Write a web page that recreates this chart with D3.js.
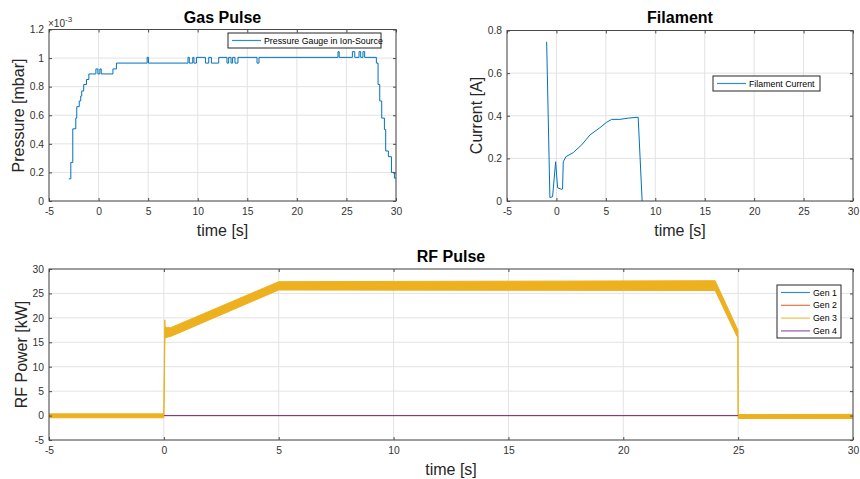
<!DOCTYPE html>
<html><head><meta charset="utf-8">
<script src="https://cdn.jsdelivr.net/npm/d3@7"></script>
<style>
body{margin:0;background:#fff}
text{font-family:"Liberation Sans",Arial,Helvetica,sans-serif}
</style>
</head><body><svg id="c" width="860" height="479"></svg>
<script>
// ---------------- data ----------------
const timeTicks = [-5, 0, 5, 10, 15, 20, 25, 30];
const gasTicksY = [0, 0.2, 0.4, 0.6, 0.8, 1, 1.2];       // x 10^-3 mbar
const filTicksY = [0, 0.2, 0.4, 0.6, 0.8];
const rfTicksY = [-5, 0, 5, 10, 15, 20, 25, 30];

// Gas pulse: pressure gauge in ion-source (step data, units 1e-3 mbar)
const gasT = [-3.0, -2.8, -2.6, -2.3, -2.2, -1.95, -1.8, -1.7, -1.5, -1.22, -0.98,
  -0.27, -0.07, 0.13, 0.27, 1.45, 1.8, 4.9, 5.03,
  9.02, 9.15, 9.5, 9.62, 9.87, 10.78, 11.11, 11.38, 12.12,
  12.95, 13.12, 13.36, 13.52, 13.76, 14.06, 15.98, 16.18,
  24.15, 24.27, 25.6, 25.84, 26.27, 26.44, 26.67, 26.84,
  28.02, 28.19, 28.36, 28.56, 28.83, 28.96, 29.23, 29.54, 29.84, 30.0];
const gasP = [0.155, 0.27, 0.505, 0.58, 0.66, 0.70, 0.735, 0.77, 0.815, 0.85, 0.889,
  0.924, 0.889, 0.924, 0.889, 0.924, 0.965, 1.005, 0.965,
  1.005, 0.965, 1.005, 0.965, 1.005, 0.965, 1.005, 0.965, 1.005,
  0.965, 1.005, 0.965, 1.005, 0.965, 1.005, 0.965, 1.005,
  1.045, 1.005, 1.045, 1.005, 1.045, 1.005, 1.045, 1.005,
  0.965, 0.815, 0.70, 0.58, 0.50, 0.35, 0.31, 0.20, 0.16, 0.16];

// Filament current [A]
const filT = [-0.99, -0.66, -0.39, -0.08, 0.12, 0.52, 0.62, 0.69, 0.96, 1.7, 2.57, 3.39, 4.4, 5.07, 5.58, 6.42, 7.29, 8.27, 8.67];
const filI = [0.747, 0.016, 0.02, 0.184, 0.062, 0.055, 0.056, 0.184, 0.208, 0.227, 0.264, 0.31, 0.344, 0.369, 0.383, 0.383, 0.389, 0.393, 0];

// RF power [kW]: generators 1,2,4 flat at zero, generator 3 as noisy band (low/high envelope)
const genNames = ["Gen 1", "Gen 2", "Gen 3", "Gen 4"];
const genColors = ["#0072BD", "#D95319", "#EDB120", "#7E2F8E"];
const genFlatT = [0, 25];
const genFlatP = [0, 0];
const gen3T  = [-5, -0.01, 0.0, 0.04, 0.05, 0.09, 0.3, 5.0, 24.0, 24.95, 24.99, 25.0, 30];
const gen3Lo = [-0.45, -0.45, -0.2, 14.0, 15.8, 16.0, 16.2, 25.7, 25.6, 16.2, 16.3, -0.6, -0.6];
const gen3Hi = [0.35, 0.35, 0.3, 19.6, 18.4, 18.0, 18.0, 27.4, 27.6, 17.9, 17.6, 0.2, 0.25];

// ---------------- drawing ----------------
const svg = d3.select("#c");
svg.append("rect").attr("width", 860).attr("height", 479).attr("fill", "#fff");
const defs = svg.append("defs");
const AX = "#4a4a4a", TXT = "#333";

function panel(id, L, R, T, B, yDom, yTicks, yFmt) {
  const x = d3.scaleLinear().domain([-5, 30]).range([L, R]);
  const y = d3.scaleLinear().domain(yDom).range([B, T]);
  const g = svg.append("g");
  g.append("rect").attr("x", L).attr("y", T).attr("width", R - L).attr("height", B - T).attr("fill", "#fff");
  // grid
  g.append("g").selectAll("line").data(timeTicks).join("line")
    .attr("x1", d => x(d)).attr("x2", d => x(d)).attr("y1", T).attr("y2", B)
    .attr("stroke", "#e3e3e3").attr("stroke-width", 1);
  g.append("g").selectAll("line").data(yTicks).join("line")
    .attr("x1", L).attr("x2", R).attr("y1", d => y(d)).attr("y2", d => y(d))
    .attr("stroke", "#e3e3e3").attr("stroke-width", 1);
  defs.append("clipPath").attr("id", id).append("rect")
    .attr("x", L).attr("y", T).attr("width", R - L).attr("height", B - T);
  const plot = g.append("g").attr("clip-path", `url(#${id})`);
  const axes = svg.append("g");
  const ax = (a, tr) => {
    const gg = axes.append("g").attr("transform", tr).call(a);
    gg.select(".domain").remove();
    gg.selectAll("line").attr("stroke", AX);
    gg.selectAll("text").attr("fill", TXT).style("font-size", "10.3px")
      .style("font-family", '"Liberation Sans",Arial,sans-serif');
    return gg;
  };
  ax(d3.axisBottom(x).tickValues(timeTicks).tickSize(-3).tickPadding(7).tickFormat(d => String(d)), `translate(0,${B})`);
  ax(d3.axisTop(x).tickValues(timeTicks).tickSize(-3).tickFormat(""), `translate(0,${T})`);
  ax(d3.axisLeft(y).tickValues(yTicks).tickSize(-3).tickPadding(5).tickFormat(yFmt), `translate(${L},0)`);
  ax(d3.axisRight(y).tickValues(yTicks).tickSize(-3).tickFormat(""), `translate(${R},0)`);
  axes.append("rect").attr("x", L).attr("y", T).attr("width", R - L).attr("height", B - T)
    .attr("fill", "none").attr("stroke", AX).attr("stroke-width", 1);
  return {x, y, plot, axes};
}

function titles(cx, ty, title, xlabY, ylab, ylx, yly) {
  svg.append("text").attr("x", cx).attr("y", ty).attr("text-anchor", "middle")
    .style("font-size", "16px").style("font-weight", "bold").attr("fill", "#000").text(title);
  svg.append("text").attr("x", cx).attr("y", xlabY).attr("text-anchor", "middle")
    .style("font-size", "16px").attr("fill", "#262626").text("time [s]");
  svg.append("text").attr("transform", `translate(${ylx},${yly}) rotate(-90)`).attr("text-anchor", "middle")
    .style("font-size", "16px").attr("fill", "#262626").text(ylab);
}

function legend(x0, y0, w, h, items) {
  const g = svg.append("g");
  g.append("rect").attr("x", x0).attr("y", y0).attr("width", w).attr("height", h)
    .attr("fill", "#fff").attr("stroke", "#262626").attr("stroke-width", 1);
  items.forEach((it, i) => {
    const yy = y0 + 7.5 + i * 12.8;
    g.append("line").attr("x1", x0 + 4).attr("x2", x0 + 33).attr("y1", yy).attr("y2", yy)
      .attr("stroke", it.c).attr("stroke-width", 1.2).attr("opacity", 0.8);
    g.append("text").attr("x", x0 + 36).attr("y", yy + 3).style("font-size", "8.8px")
      .attr("fill", "#000").text(it.n);
  });
}

// ---- Gas Pulse ----
const fmtNum = d => String(d);
const gp = panel("cg", 49, 396, 29.5, 201, [0, 1.2], gasTicksY, fmtNum);
gp.plot.append("path").datum(gasT.map((t, i) => [t, gasP[i]]))
  .attr("d", d3.line().x(d => gp.x(d[0])).y(d => gp.y(d[1])).curve(d3.curveStepAfter))
  .attr("fill", "none").attr("stroke", "#0072BD").attr("stroke-width", 1);
titles(222.5, 23, "Gas Pulse", 236, "Pressure [mbar]", 24, 115.5);
const ex = svg.append("text").attr("x", 48).attr("y", 27).style("font-size", "10px").attr("fill", TXT);
ex.append("tspan").text("\u00d710");
ex.append("tspan").attr("dy", -5).style("font-size", "8px").text("-3");
legend(228, 33, 153, 15, [{n: "Pressure Gauge in Ion-Source", c: "#0072BD"}]);

// ---- Filament ----
const fp = panel("cf", 507, 853, 30.5, 201, [0, 0.8], filTicksY, fmtNum);
fp.plot.append("path").datum(filT.map((t, i) => [t, filI[i]]))
  .attr("d", d3.line().x(d => fp.x(d[0])).y(d => fp.y(d[1])))
  .attr("fill", "none").attr("stroke", "#0072BD").attr("stroke-width", 1);
titles(680, 23, "Filament", 236, "Current [A]", 482, 115.5);
legend(713, 76, 107, 15, [{n: "Filament Current", c: "#0072BD"}]);

// ---- RF Pulse ----
const rp = panel("cr", 49, 853, 269, 440, [-5, 30], rfTicksY, fmtNum);
const flatLine = d3.line().x(d => rp.x(d[0])).y(d => rp.y(d[1]));
[0, 1].forEach(k => {
  rp.plot.append("path").datum(genFlatT.map((t, i) => [t, genFlatP[i]]))
    .attr("d", flatLine).attr("fill", "none").attr("stroke", genColors[k]).attr("stroke-width", 1);
});
rp.plot.append("path").datum(gen3T.map((t, i) => [t, gen3Lo[i], gen3Hi[i]]))
  .attr("d", d3.area().x(d => rp.x(d[0])).y0(d => rp.y(d[1])).y1(d => rp.y(d[2])))
  .attr("fill", genColors[2]).attr("stroke", genColors[2]).attr("stroke-width", 1).attr("stroke-linejoin", "round");
rp.plot.append("path").datum(genFlatT.map((t, i) => [t, genFlatP[i]]))
  .attr("d", flatLine).attr("fill", "none").attr("stroke", genColors[3]).attr("stroke-width", 1).attr("opacity", 0.85);
titles(451, 262, "RF Pulse", 475, "RF Power [kW]", 27, 354.5);
legend(777, 285, 64, 53, genNames.map((n, i) => ({n, c: genColors[i]})));
</script>
</body></html>
